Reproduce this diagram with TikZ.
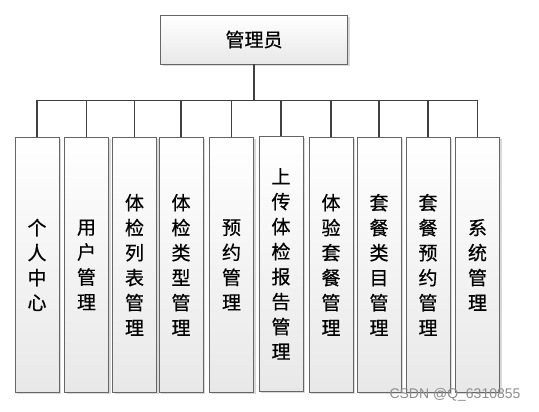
\documentclass[tikz,border=0pt]{standalone}
\usepackage{fontspec}
\newfontfamily\cjk[FakeBold=0.6]{Noto Sans CJK SC}
\newfontfamily\markfont{Liberation Sans}
\usetikzlibrary{shadows}

\begin{document}
\begin{tikzpicture}[x=1pt,y=-1pt,
  box/.style={draw=black!60, line width=0.8pt, top color=white, bottom color=black!9,
    drop shadow={shadow xshift=2pt, shadow yshift=-2pt, fill=black!25, opacity=0.6},
    inner sep=0pt, align=center, font=\cjk\fontsize{19}{25}\selectfont},
  item/.style={box, anchor=north, minimum width=44pt, minimum height=255pt},
  link/.style={draw=black!75, line width=1.3pt}]
  \useasboundingbox (0,0) rectangle (539,412);
  % top
  \node [box, minimum width=187pt, minimum height=49pt] (admin) at (254,39.5) {管理员};
  % second row
  \node [item] (center)  at (37,137)    {个\\人\\中\\心};
  \node [item] (user)    at (86.5,137)  {用\\户\\管\\理};
  \node [item] (exam)    at (134.5,137) {体\\检\\列\\表\\管\\理};
  \node [item] (type)    at (181,137)   {体\\检\\类\\型\\管\\理};
  \node [item] (booking) at (231.5,137) {预\\约\\管\\理};
  \node [item] (report)  at (281,136)   {上\\传\\体\\检\\报\\告\\管\\理};
  \node [item] (package) at (331,137)   {体\\验\\套\\餐\\管\\理};
  \node [item] (kind)    at (379,137)   {套\\餐\\类\\目\\管\\理};
  \node [item] (pkgbook) at (428,137)   {套\\餐\\预\\约\\管\\理};
  \node [item] (system)  at (477.5,137) {系\\统\\管\\理};
  % links
  \draw [link] (admin.south) -- ++(0,36) -| (center.north);
  \draw [link] (admin.south) -- ++(0,36) -| (user.north);
  \draw [link] (admin.south) -- ++(0,36) -| (exam.north);
  \draw [link] (admin.south) -- ++(0,36) -| (type.north);
  \draw [link] (admin.south) -- ++(0,36) -| (booking.north);
  \draw [link] (admin.south) -- ++(0,36) -| (report.north);
  \draw [link] (admin.south) -- ++(0,36) -| (package.north);
  \draw [link] (admin.south) -- ++(0,36) -| (kind.north);
  \draw [link] (admin.south) -- ++(0,36) -| (pkgbook.north);
  \draw [link] (admin.south) -- ++(0,36) -| (system.north);
  \node [text=black!45, font=\markfont\fontsize{14}{14}\selectfont] (mark) at (455,395) {CSDN @Q\_6310855};
\end{tikzpicture}
\end{document}
